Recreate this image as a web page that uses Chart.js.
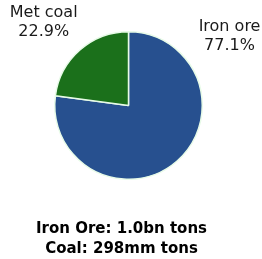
<!DOCTYPE html>
<html>
<head>
<meta charset="utf-8">
<script src="https://cdn.jsdelivr.net/npm/chart.js@4/dist/chart.umd.min.js"></script>
<style>
  html, body { margin: 0; padding: 0; background: #fff; }
  #wrap { width: 262px; height: 259px; position: relative; }
</style>
</head>
<body>
<div id="wrap"><canvas id="chart"></canvas></div>
<script>
const categories = ['Iron ore', 'Met coal'];
const shares = [77.1, 22.9];
const colors = ['#27508f', '#1b701b'];
const footerLines = ['Iron Ore: 1.0bn tons', 'Coal: 298mm tons'];

// label spots, in units of the pie radius from its centre
const labelSpots = [
  { dx: 1.37, dy: -0.94 },
  { dx: -1.15, dy: -1.13 }
];

const sliceLabels = {
  id: 'sliceLabels',
  afterDraw(chart) {
    const ctx = chart.ctx;
    const arcs = chart.getDatasetMeta(0).data;
    ctx.save();
    ctx.textAlign = 'center';
    ctx.textBaseline = 'middle';
    ctx.fillStyle = '#1a1a1a';
    ctx.font = '16px "DejaVu Sans", sans-serif';
    arcs.forEach((arc, i) => {
      const r = arc.outerRadius;
      const x = arc.x + labelSpots[i].dx * r;
      const y = arc.y + labelSpots[i].dy * r;
      ctx.fillText(categories[i], x, y - 9.5);
      ctx.fillText(shares[i].toFixed(1) + '%', x, y + 9.5);
    });
    ctx.fillStyle = '#000';
    ctx.font = 'bold 15px "DejaVu Sans", sans-serif';
    const cx = arcs[0].x - 7;
    ctx.fillText(footerLines[0], cx, 229);
    ctx.fillText(footerLines[1], cx, 249);
    ctx.restore();
  }
};

new Chart(document.getElementById('chart'), {
  type: 'pie',
  data: {
    labels: categories,
    datasets: [{
      data: shares,
      backgroundColor: colors,
      borderColor: '#e8fbe8',
      borderWidth: 1.5
    }]
  },
  options: {
    responsive: true,
    maintainAspectRatio: false,
    animation: false,
    layout: { padding: { top: 31, bottom: 79, left: 54, right: 59 } },
    plugins: {
      legend: { display: false },
      tooltip: { enabled: false }
    }
  },
  plugins: [sliceLabels]
});
</script>
</body>
</html>
